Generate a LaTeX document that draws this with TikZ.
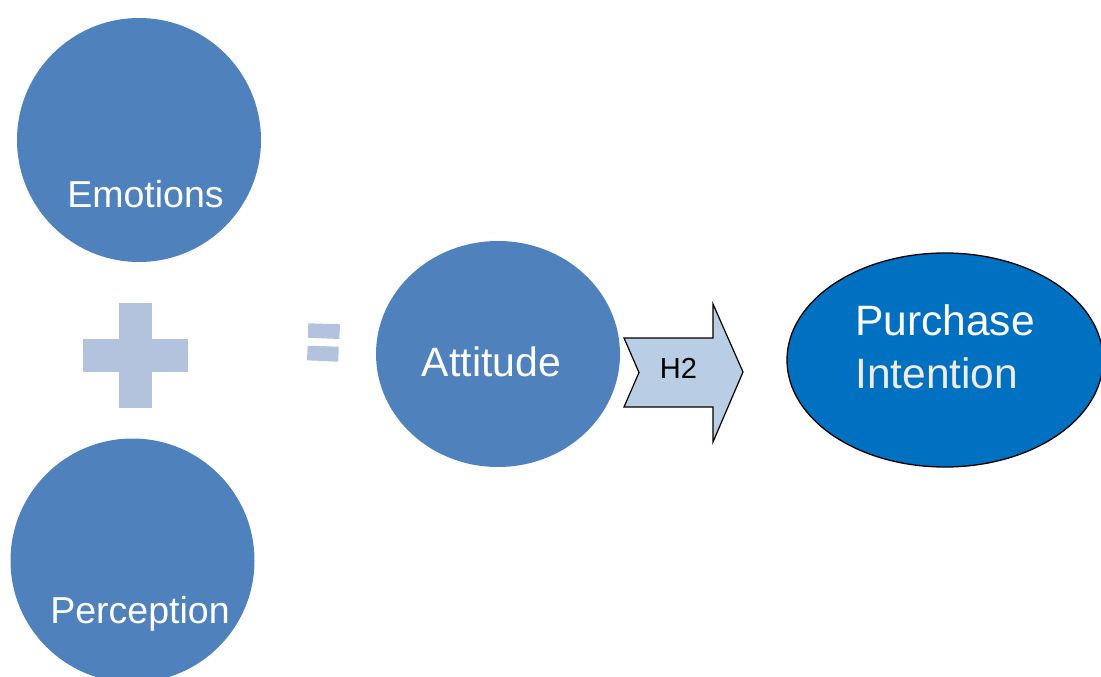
\documentclass[tikz,border=0pt]{standalone}
\usepackage{fontspec}
\setmainfont{Liberation Sans}
\usetikzlibrary{shapes.geometric}
\definecolor{cblue}{HTML}{4F81BD}
\definecolor{lightop}{HTML}{B3C3DD}
\definecolor{arrfill}{HTML}{B9CDE5}
\definecolor{pblue}{HTML}{0070C0}
\definecolor{cream}{HTML}{EEECE1}
\tikzset{
  bubble/.style={circle, fill=cblue, draw=none, minimum size=244pt, inner sep=0pt},
  bubtext/.style={text=white, inner sep=0pt, anchor=base, font=\fontsize{37.5}{45}\selectfont},
  opshape/.style={fill=lightop, draw=none},
}
\begin{document}
\begin{tikzpicture}[x=1pt,y=-1pt]
\useasboundingbox (0,0) rectangle (1101,677);
\clip (0,0) rectangle (1101,677);
% circles
\node[bubble] (emo) at (139,140) {};
\node[bubble] (per) at (132.5,560.5) {};
\node[ellipse, fill=cblue, minimum width=244pt, minimum height=226pt, inner sep=0pt] (att) at (498,354) {};
\node[ellipse, fill=pblue, draw=black, line width=1.3pt, minimum width=316pt, minimum height=214pt, inner sep=0pt] (pi) at (945,360) {};
% texts
\node[bubtext] (emot) at (145.5,207) {Emotions};
\node[bubtext] (pert) at (140,623) {Perception};
\node[bubtext, font=\fontsize{41}{49}\selectfont] (attt) at (491.5,376) {Attitude};
\node[text=white, inner sep=0pt, anchor=base west, font=\fontsize{42.5}{51}\selectfont] (pit1) at (855,335) {Purchase};
\node[text=cream, inner sep=0pt, anchor=base west, font=\fontsize{42.5}{51}\selectfont] (pit2) at (855,388) {Intention};
% plus
\fill[opshape] (119,303) rectangle (152,408);
\fill[opshape] (83,339) rectangle (188,372);
% equals
\fill[opshape] (308.3,323.3) -- (340,324.3) -- (339.3,339) -- (308,337.7) -- cycle;
\fill[opshape] (307.7,345.7) -- (338.7,346.7) -- (338.3,361.7) -- (307,360.3) -- cycle;
% arrow
\coordinate (a1) at (624,338);
\draw[fill=arrfill, line width=1.2pt, line join=miter] (a1) -- (713,338) -- (713,304) -- (743,372) -- (713,442) -- (713,407) -- (624,407) -- (639,372.5) -- cycle;
\node[inner sep=0pt, anchor=base, font=\fontsize{29}{35}\selectfont] (h2) at (678.5,378.5) {H2};
\end{tikzpicture}
\end{document}
